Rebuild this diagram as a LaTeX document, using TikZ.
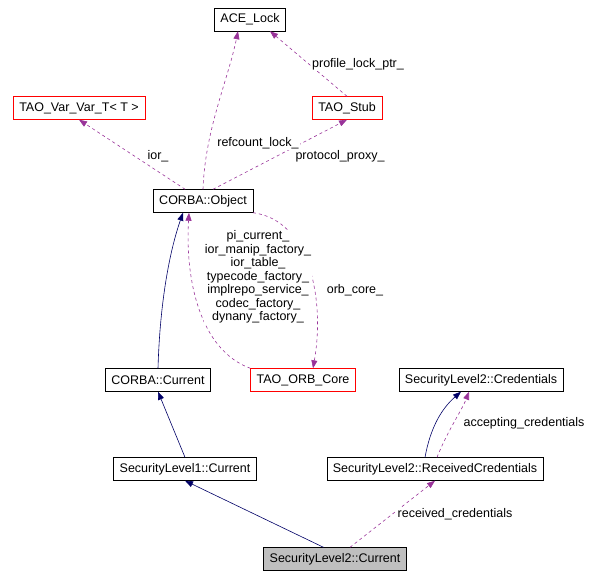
\documentclass[tikz,border=0pt]{standalone}
\usepackage{fontspec}
\setmainfont{Liberation Sans}
\usetikzlibrary{positioning,arrows.meta}

\begin{document}
\begin{tikzpicture}[%
		x=1pt, y=-1pt,
		>={Triangle[width=6pt,length=8pt]},
		font=\fontsize{12.5}{13.5}\selectfont,
		cls/.style={%
			minimum height=23pt,
			draw,
			inner xsep=6pt,
			inner ysep=2pt,
			fill=white
		},
		red cls/.style={cls, draw=red},
		inh/.style={->, draw=blue!40!black, semithick},
		use/.style={->, draw=violet!80!white, dashed, semithick},
		lbl/.style={fill=white, inner sep=1pt, align=center}
		]
		\useasboundingbox (0,0) rectangle (613,579);
		\node[cls]     (lock)     at (250,19.5) {ACE\_Lock};
		\node[red cls] (varvar)   at (79,108)   {TAO\_Var\_Var\_T< T >};
		\node[red cls] (stub)     at (347,108)  {TAO\_Stub};
		\node[cls]     (object)   at (203,201)  {CORBA::Object};
		\node[cls]     (current)  at (158,380)  {CORBA::Current};
		\node[red cls] (orbcore)  at (303,380)  {TAO\_ORB\_Core};
		\node[cls]     (creds)    at (481,380)  {SecurityLevel2::Credentials};
		\node[cls]     (sl1)      at (185,469)  {SecurityLevel1::Current};
		\node[cls]     (received) at (435,469)  {SecurityLevel2::ReceivedCredentials};
		\node[cls, fill=black!25] (sl2) at (335,559) {SecurityLevel2::Current};
		
		\draw[use] (object.north) .. controls (205,130) and (228,80) .. ([xshift=-12pt]lock.south);
		\draw[use] (stub.north) -- ([xshift=20pt]lock.south);
		\draw[use] (object) -- (varvar.south);
		\draw[use] ([xshift=-40pt]object.north east) -- (stub.south);
		\draw[inh] (current.north) .. controls (160,300) and (170,250) .. ([xshift=-20pt]object.south);
		\draw[use] (orbcore.north west) .. controls (200,350) and (185,280) .. ([xshift=-14pt]object.south);
		\draw[use] (object.south east) .. controls (310,220) and (325,300) .. ([xshift=10pt]orbcore.north);
		\draw[inh] (sl1.north) -- (current.south);
		\draw[inh] ([xshift=-10pt]received.north) .. controls (430,430) and (440,410) .. ([xshift=-20pt]creds.south);
		\draw[use] ([xshift=2pt]received.north) .. controls (448,430) and (462,410) .. ([xshift=-12pt]creds.south);
		\draw[inh] ([xshift=60pt]sl2.north west) -- (sl1.south);
		\draw[use] ([xshift=15pt]sl2.north) -- (received.south);
		
		\node[lbl] at (258,143) {refcount\_lock\_};
		\node[lbl] at (358,64)  {profile\_lock\_ptr\_};
		\node[lbl] at (158,156) {ior\_};
		\node[lbl] at (340,156) {protocol\_proxy\_};
		\node[lbl] at (258,277) {pi\_current\_\\ior\_manip\_factory\_\\ior\_table\_\\typecode\_factory\_\\implrepo\_service\_\\codec\_factory\_\\dynany\_factory\_};
		\node[lbl] at (355,290) {orb\_core\_};
		\node[lbl] at (524,423) {accepting\_credentials};
		\node[lbl] at (455,514) {received\_credentials};
\end{tikzpicture}
\end{document}
